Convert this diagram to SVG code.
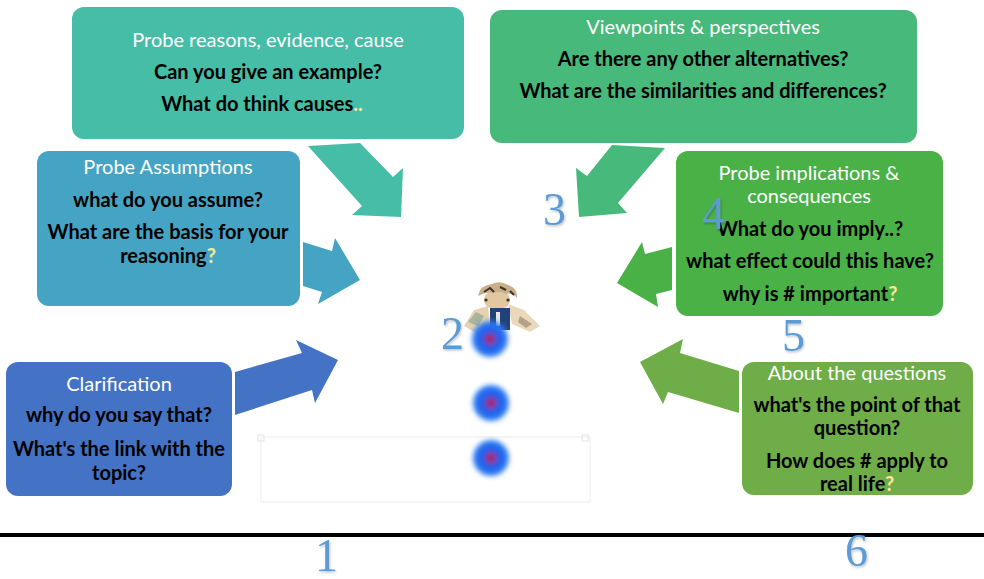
<svg xmlns="http://www.w3.org/2000/svg" width="984" height="579" viewBox="0 0 984 579">
  <style>
    .title { font-family: Lato, "Open Sans", "Liberation Sans", sans-serif; font-size: 20px; fill: #ffffff; text-anchor: middle; }
    .q { font-family: Lato, "Open Sans", "Liberation Sans", sans-serif; font-size: 20px; font-weight: bold; fill: #000000; text-anchor: middle; }
    .hl { fill: #FFE699; }
    .num { font-family: "Liberation Serif", "DejaVu Serif", serif; font-size: 46px; fill: #5B9BD5; filter: url(#numShadow); }
    .dot { filter: url(#soft); }
  </style>
  <defs>
    <filter id="soft" x="-60%" y="-60%" width="220%" height="220%">
      <feGaussianBlur stdDeviation="2.6"/>
    </filter>
    <filter id="fig" x="-20%" y="-20%" width="140%" height="140%">
      <feGaussianBlur stdDeviation="0.7"/>
    </filter>
    <filter id="numShadow" x="-30%" y="-30%" width="160%" height="160%">
      <feDropShadow dx="1" dy="1.5" stdDeviation="1" flood-color="#000000" flood-opacity="0.25"/>
    </filter>
    <radialGradient id="dotFill">
      <stop offset="0" stop-color="#C8102E"/>
      <stop offset="0.18" stop-color="#B0205A"/>
      <stop offset="0.35" stop-color="#2F55E0"/>
      <stop offset="0.7" stop-color="#1E6BF0"/>
      <stop offset="1" stop-color="#3A86F5"/>
    </radialGradient>
  </defs>

  <rect width="984" height="579" fill="#ffffff"/>

  <!-- faint placeholder frame beneath the figure -->
  <g id="frame" fill="none" stroke="#EDEDED" stroke-width="1">
    <rect x="261" y="437" width="329" height="65"/>
    <rect x="258" y="435" width="6" height="6" stroke="#E4E4E4"/>
    <rect x="582" y="435" width="6" height="6" stroke="#E4E4E4"/>
  </g>

  <!-- connectors -->
  <g id="connectors">
    <polygon points="308,146 360,143 393,177 403,168 401,217 352,215 362,206" fill="#45BDA7"/>
    <polygon points="612,145 665,148 618,203 627,213 579,217 576,168 587,176" fill="#47B97A"/>
    <polygon points="303,242 332,251 335,238 360,280 318,304 322,292 303,286" fill="#45A4C3"/>
    <polygon points="672,247 645,254 642,242 617,283 658,307 656,294 672,290" fill="#4AB147"/>
    <polygon points="235,372 302,353 296,340 338,360 315,403 312,390 235,415" fill="#4472C4"/>
    <polygon points="739,371 680,353 683,339 640,362 663,404 668,392 739,413" fill="#6EAD47"/>
  </g>

  <!-- central figure: reader with open book -->
  <g id="figure" filter="url(#fig)">
    <!-- arms / open pages -->
    <path d="M464,326 L474,310 L488,306 L490,326 L478,334 Z" fill="#E6D2B2"/>
    <path d="M468,322 L476,312 L484,316 L478,326 Z" fill="#A9B59A"/>
    <path d="M508,304 L524,310 L540,326 L530,332 L512,324 Z" fill="#EAD8BC"/>
    <path d="M520,316 L532,324 L526,328 L518,322 Z" fill="#B5A184"/>
    <!-- head and hair -->
    <ellipse cx="497" cy="300" rx="13" ry="10" fill="#E2C7A2"/>
    <path d="M478,296 Q480,285 492,284 Q500,280 508,285 Q518,288 517,298 Q512,292 506,294 Q500,290 494,293 Q486,291 478,296 Z" fill="#C9AE8A"/>
    <path d="M484,292 L490,288 L494,292 M500,287 L506,290 M510,291 L514,295" stroke="#3E3228" stroke-width="2" fill="none"/>
    <circle cx="486" cy="300" r="1.6" fill="#3E3228"/>
    <circle cx="508" cy="300" r="1.6" fill="#3E3228"/>
    <!-- book -->
    <rect x="490" y="308" width="20" height="22" fill="#24427A"/>
    <rect x="496" y="312" width="4" height="14" fill="#E6E6E6"/>
  </g>
  <g id="markers">
    <circle class="dot" cx="490" cy="339" r="18" fill="url(#dotFill)"/>
    <circle class="dot" cx="491" cy="403" r="18" fill="url(#dotFill)"/>
    <circle class="dot" cx="491" cy="458" r="18" fill="url(#dotFill)"/>
  </g>

  <!-- question nodes -->
  <g id="node-reasons">
    <rect x="72" y="7" width="392" height="132" rx="12" fill="#45BDA7"/>
    <text class="title" x="268" y="47">Probe reasons, evidence, cause</text>
    <text class="q" x="268" y="79">Can you give an example?</text>
    <text class="q" x="262" y="111">What do think causes<tspan class="hl">..</tspan></text>
  </g>

  <g id="node-viewpoints">
    <rect x="490" y="10" width="427" height="133" rx="12" fill="#47B97A"/>
    <text class="title" x="703" y="34">Viewpoints &amp; perspectives</text>
    <text class="q" x="703" y="66">Are there any other alternatives?</text>
    <text class="q" x="703" y="98">What are the similarities and differences?</text>
  </g>

  <g id="node-assumptions">
    <rect x="37" y="151" width="263" height="155" rx="12" fill="#45A4C3"/>
    <text class="title" x="168" y="174">Probe Assumptions</text>
    <text class="q" x="168" y="207">what do you assume?</text>
    <text class="q" x="168" y="239">What are the basis for your</text>
    <text class="q" x="168" y="263">reasoning<tspan class="hl">?</tspan></text>
  </g>

  <g id="node-implications">
    <rect x="676" y="151" width="267" height="165" rx="12" fill="#4AB147"/>
    <text class="title" x="809" y="180">Probe implications &amp;</text>
    <text class="title" x="809" y="203">consequences</text>
    <text class="q" x="810" y="236">What do you imply..?</text>
    <text class="q" x="810" y="268">what effect could this have?</text>
    <text class="q" x="810" y="301">why is # important<tspan class="hl">?</tspan></text>
  </g>

  <g id="node-clarification">
    <rect x="6" y="362" width="226" height="134" rx="12" fill="#4472C4"/>
    <text class="title" x="119" y="391">Clarification</text>
    <text class="q" x="119" y="422">why do you say that?</text>
    <text class="q" x="119" y="456">What's the link with the</text>
    <text class="q" x="119" y="480">topic?</text>
  </g>

  <g id="node-about">
    <rect x="742" y="362" width="231" height="133" rx="12" fill="#6EAD47"/>
    <text class="title" x="857" y="380">About the questions</text>
    <text class="q" x="857" y="412">what's the point of that</text>
    <text class="q" x="857" y="435">question?</text>
    <text class="q" x="857" y="468">How does # apply to</text>
    <text class="q" x="857" y="491">real life<tspan class="hl">?</tspan></text>
  </g>

  <!-- baseline rule -->
  <line x1="0" y1="535" x2="984" y2="535" stroke="#000000" stroke-width="4"/>

  <!-- step numbers -->
  <g id="numbers">
    <text class="num" x="315" y="571">1</text>
    <text class="num" x="441" y="349">2</text>
    <text class="num" x="543" y="225">3</text>
    <text class="num" x="702" y="229">4</text>
    <text class="num" x="782" y="351">5</text>
    <text class="num" x="845" y="566">6</text>
  </g>
</svg>
